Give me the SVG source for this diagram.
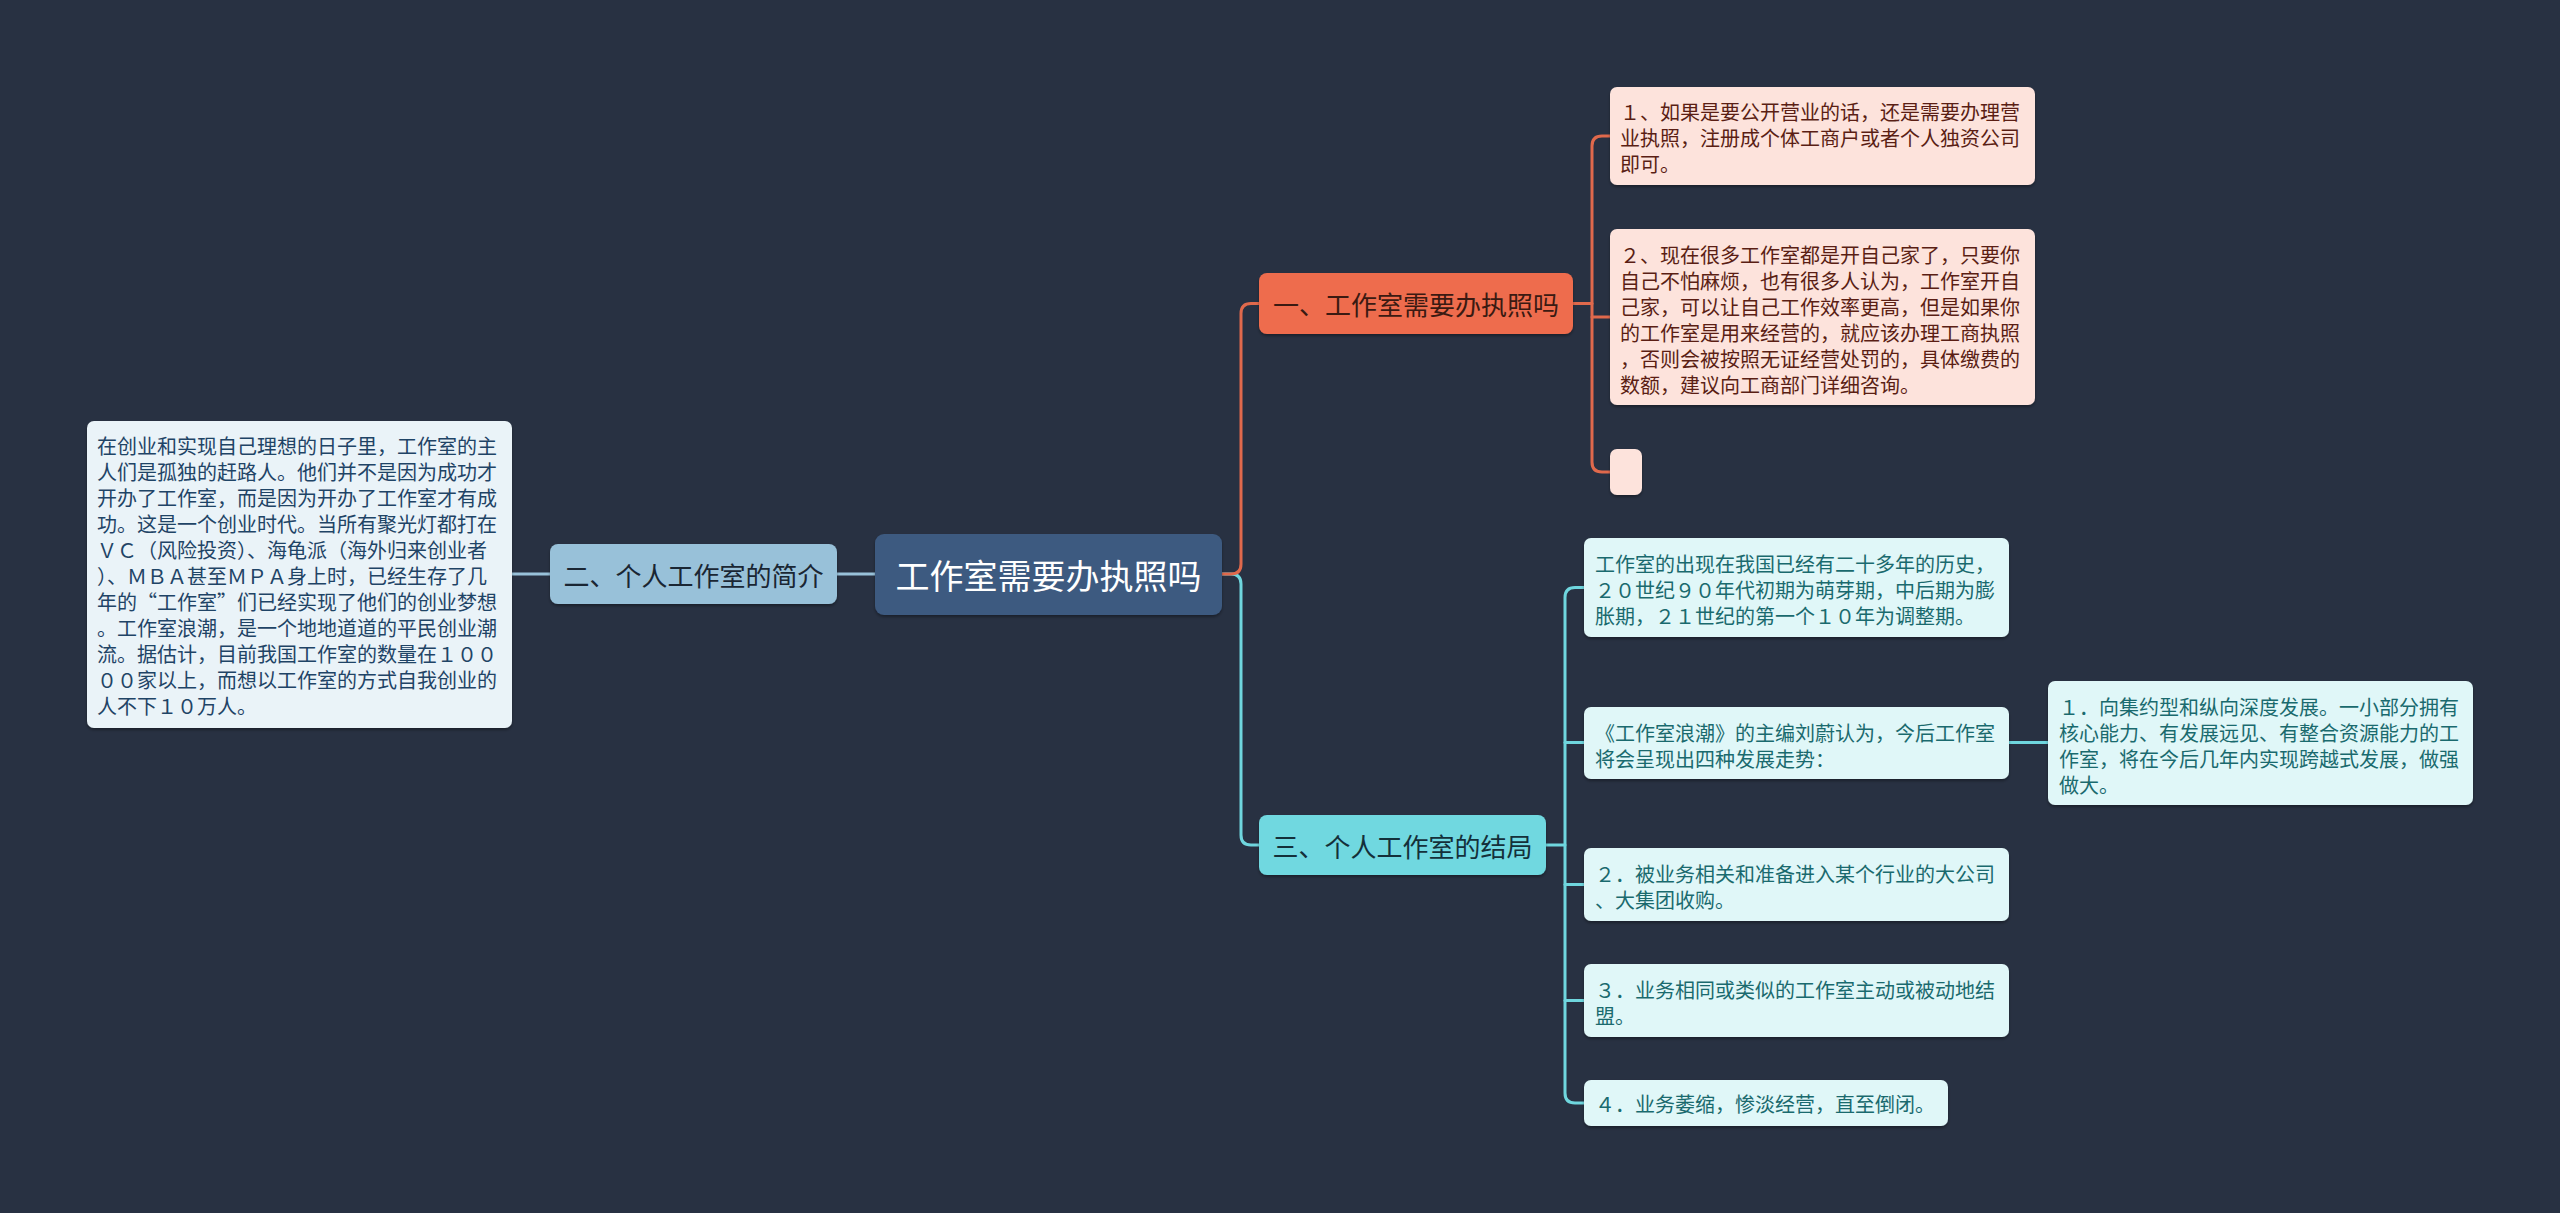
<svg xmlns="http://www.w3.org/2000/svg" width="2560" height="1213" viewBox="0 0 2560 1213">
<defs>
<filter id="sh" x="-5%" y="-5%" width="110%" height="120%">
<feDropShadow dx="0" dy="2" stdDeviation="1.5" flood-color="#000" flood-opacity="0.35"/>
</filter>
<style>
text{font-family:"Noto Sans CJK SC","Noto Sans",sans-serif;dominant-baseline:central}
.main{font-size:26px}
.leaf{font-size:20px}
.c{fill:none;stroke-width:3;stroke-linecap:round;stroke-linejoin:round}
.or{stroke:#e0694c}
.cy{stroke:#6fd6de}
.lb{stroke:#98c1d9}
</style>
</defs>
<rect width="2560" height="1213" fill="#283142"/>

<g id="connectors">
<path class="c lb" d="M875 574 H837"/>
<path class="c lb" d="M550 574 H512"/>
<path class="c cy" d="M1222 574 H1231 Q1241 574 1241 584 V835 Q1241 845 1251 845 H1259"/>
<path class="c or" d="M1222 574 H1231 Q1241 574 1241 564 V313.5 Q1241 303.5 1251 303.5 H1259"/>
<path class="c or" d="M1573 303.5 H1592"/>
<path class="c or" d="M1610 136 H1602 Q1592 136 1592 146 V462 Q1592 472 1602 472 H1610"/>
<path class="c or" d="M1592 317 H1610"/>
<path class="c cy" d="M1546 845 H1565"/>
<path class="c cy" d="M1584 587.5 H1575 Q1565 587.5 1565 597.5 V1093 Q1565 1103 1575 1103 H1584"/>
<path class="c cy" d="M1565 742.5 H1584"/>
<path class="c cy" d="M1565 884.5 H1584"/>
<path class="c cy" d="M1565 1000.5 H1584"/>
<path class="c cy" d="M2009 742.5 H2048"/>
</g>

<g id="root">
<rect x="875" y="534" width="347" height="81" rx="9" fill="#3d5a80" filter="url(#sh)"/>
<text x="1048.5" y="574" text-anchor="middle" font-size="34" fill="#ffffff">工作室需要办执照吗</text>
</g>

<g id="n1">
<rect x="1259" y="273" width="314" height="61" rx="8" fill="#ee6c4d" filter="url(#sh)"/>
<text class="main" x="1416" y="303.5" text-anchor="middle" fill="#3a1a12">一、工作室需要办执照吗</text>
</g>

<g id="n2">
<rect x="550" y="544" width="287" height="60" rx="8" fill="#98c1d9" filter="url(#sh)"/>
<text class="main" x="693.5" y="574" text-anchor="middle" fill="#1a2633">二、个人工作室的简介</text>
</g>

<g id="n3">
<rect x="1259" y="815" width="287" height="60" rx="8" fill="#6fd8e0" filter="url(#sh)"/>
<text class="main" x="1402.5" y="845" text-anchor="middle" fill="#14303a">三、个人工作室的结局</text>
</g>

<g id="n2-leaf">
<rect x="87" y="421" width="425" height="307" rx="7" fill="#eaf3f8" filter="url(#sh)"/>
<text class="leaf" fill="#1f4466">
<tspan x="97" y="445">在创业和实现自己理想的日子里，工作室的主</tspan>
<tspan x="97" y="471">人们是孤独的赶路人。他们并不是因为成功才</tspan>
<tspan x="97" y="497">开办了工作室，而是因为开办了工作室才有成</tspan>
<tspan x="97" y="523">功。这是一个创业时代。当所有聚光灯都打在</tspan>
<tspan x="97" y="549">ＶＣ（风险投资）、海龟派（海外归来创业者</tspan>
<tspan x="97" y="575">）、ＭＢＡ甚至ＭＰＡ身上时，已经生存了几</tspan>
<tspan x="97" y="601">年的“工作室”们已经实现了他们的创业梦想</tspan>
<tspan x="97" y="627">。工作室浪潮，是一个地地道道的平民创业潮</tspan>
<tspan x="97" y="653">流。据估计，目前我国工作室的数量在１００</tspan>
<tspan x="97" y="679">００家以上，而想以工作室的方式自我创业的</tspan>
<tspan x="97" y="705">人不下１０万人。</tspan>
</text>
</g>

<g id="n1-leaf1">
<rect x="1610" y="87" width="425" height="98" rx="7" fill="#fde3dc" filter="url(#sh)"/>
<text class="leaf" fill="#5a1e14">
<tspan x="1620" y="111">１、如果是要公开营业的话，还是需要办理营</tspan>
<tspan x="1620" y="137">业执照，注册成个体工商户或者个人独资公司</tspan>
<tspan x="1620" y="163">即可。</tspan>
</text>
</g>

<g id="n1-leaf2">
<rect x="1610" y="229" width="425" height="176" rx="7" fill="#fde3dc" filter="url(#sh)"/>
<text class="leaf" fill="#5a1e14">
<tspan x="1620" y="253.5">２、现在很多工作室都是开自己家了，只要你</tspan>
<tspan x="1620" y="279.5">自己不怕麻烦，也有很多人认为，工作室开自</tspan>
<tspan x="1620" y="305.5">己家，可以让自己工作效率更高，但是如果你</tspan>
<tspan x="1620" y="331.5">的工作室是用来经营的，就应该办理工商执照</tspan>
<tspan x="1620" y="357.5">，否则会被按照无证经营处罚的，具体缴费的</tspan>
<tspan x="1620" y="383.5">数额，建议向工商部门详细咨询。</tspan>
</text>
</g>

<g id="n1-leaf3">
<rect x="1610" y="449" width="32" height="46" rx="7" fill="#fde3dc" filter="url(#sh)"/>
</g>

<g id="n3-leafA">
<rect x="1584" y="538" width="425" height="99" rx="7" fill="#e0f7f8" filter="url(#sh)"/>
<text class="leaf" fill="#1a6a6e">
<tspan x="1595" y="563">工作室的出现在我国已经有二十多年的历史，</tspan>
<tspan x="1595" y="589">２０世纪９０年代初期为萌芽期，中后期为膨</tspan>
<tspan x="1595" y="615">胀期，２１世纪的第一个１０年为调整期。</tspan>
</text>
</g>

<g id="n3-leafB">
<rect x="1584" y="707" width="425" height="72" rx="7" fill="#e0f7f8" filter="url(#sh)"/>
<text class="leaf" fill="#1a6a6e">
<tspan x="1595" y="731.5">《工作室浪潮》的主编刘蔚认为，今后工作室</tspan>
<tspan x="1595" y="757.5">将会呈现出四种发展走势：</tspan>
</text>
</g>

<g id="n3-leafB1">
<rect x="2048" y="681" width="425" height="124" rx="7" fill="#e0f7f8" filter="url(#sh)"/>
<text class="leaf" fill="#1a6a6e">
<tspan x="2059" y="705.5">１．向集约型和纵向深度发展。一小部分拥有</tspan>
<tspan x="2059" y="731.5">核心能力、有发展远见、有整合资源能力的工</tspan>
<tspan x="2059" y="757.5">作室，将在今后几年内实现跨越式发展，做强</tspan>
<tspan x="2059" y="783.5">做大。</tspan>
</text>
</g>

<g id="n3-leafC">
<rect x="1584" y="848" width="425" height="73" rx="7" fill="#e0f7f8" filter="url(#sh)"/>
<text class="leaf" fill="#1a6a6e">
<tspan x="1595" y="872.5">２．被业务相关和准备进入某个行业的大公司</tspan>
<tspan x="1595" y="898.5">、大集团收购。</tspan>
</text>
</g>

<g id="n3-leafD">
<rect x="1584" y="964" width="425" height="73" rx="7" fill="#e0f7f8" filter="url(#sh)"/>
<text class="leaf" fill="#1a6a6e">
<tspan x="1595" y="988.5">３．业务相同或类似的工作室主动或被动地结</tspan>
<tspan x="1595" y="1014.5">盟。</tspan>
</text>
</g>

<g id="n3-leafE">
<rect x="1584" y="1080" width="364" height="46" rx="7" fill="#e0f7f8" filter="url(#sh)"/>
<text class="leaf" fill="#1a6a6e">
<tspan x="1595" y="1103">４．业务萎缩，惨淡经营，直至倒闭。</tspan>
</text>
</g>
</svg>
